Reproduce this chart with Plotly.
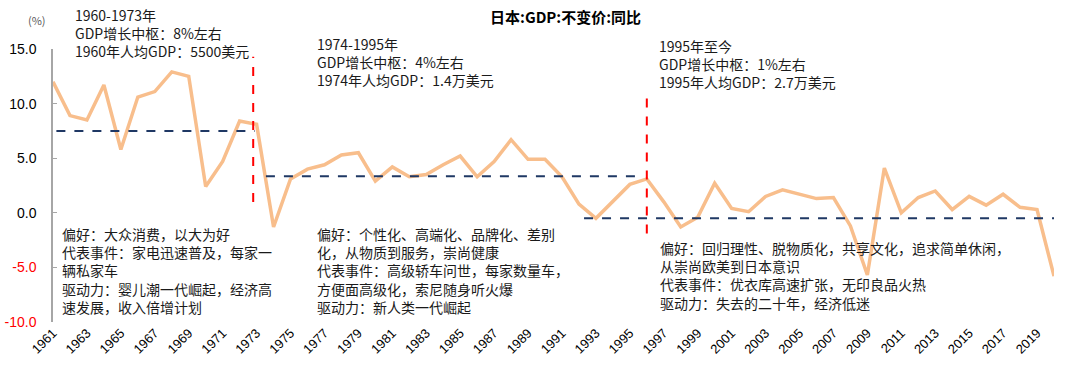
import plotly.graph_objects as go

years = list(range(1961, 2021))
gdp_yoy = [12.0, 8.9, 8.5, 11.7, 5.8, 10.6, 11.1, 12.9, 12.5, 2.4,
           4.7, 8.4, 8.1, -1.3, 3.1, 4.0, 4.4, 5.3, 5.5, 2.9,
           4.2, 3.3, 3.5, 4.4, 5.2, 3.3, 4.7, 6.7, 4.9, 4.9,
           3.3, 0.8, -0.5, 1.0, 2.6, 3.1, 1.0, -1.3, -0.4, 2.7,
           0.4, 0.1, 1.5, 2.1, 1.7, 1.3, 1.4, -1.2, -5.7, 4.1,
           0.0, 1.4, 2.0, 0.3, 1.5, 0.7, 1.7, 0.5, 0.3, -5.8]

x_tick_years = list(range(1961, 2021, 2))
y_ticks = [-10, -5, 0, 5, 10, 15]

# period growth centres (horizontal dashed lines)
period_start = [1961.2, 1973.55, 1992.3]
period_end = [1972.9, 1995.7, 2020.0]
period_level = [7.5, 3.35, -0.5]

# period boundaries (vertical red dashed lines)
break_x = [1972.8, 1996.0]
break_y0 = [1.0, -1.9]
break_y1 = [14.3, 11.0]

W, H = 1080, 375
L, T = 53, 49
pw, ph = 1001, 273
R = W - L - pw
B = H - T - ph

def px(x):
    return (x - L) / pw

def py(y):
    return (T + ph - y) / ph

fig = go.Figure()
fig.add_trace(go.Scatter(x=years, y=gdp_yoy, mode="lines",
                         line=dict(color="#F8BE8C", width=3.5),
                         showlegend=False, hoverinfo="skip"))

shapes = []
for s, e, v in zip(period_start, period_end, period_level):
    shapes.append(dict(type="line", xref="x", yref="y", x0=s, x1=e, y0=v, y1=v,
                       line=dict(color="#1F3864", width=2, dash="dash")))
for bx, b0, b1 in zip(break_x, break_y0, break_y1):
    shapes.append(dict(type="line", xref="x", yref="y", x0=bx, x1=bx, y0=b0, y1=b1,
                       line=dict(color="#FF0000", width=2, dash="dash")))

cjk = "Noto Sans CJK SC"
txt_color = "#1a1a1a"

def block(x, y, lines):
    return dict(xref="paper", yref="paper", x=px(x), y=py(y), xanchor="left",
                yanchor="top", align="left", showarrow=False,
                text="<br>".join(lines), font=dict(family=cjk, size=14, color=txt_color))

annotations = [
    dict(xref="paper", yref="paper", x=px(565), y=py(17), xanchor="center", yanchor="middle",
         showarrow=False, text="<b>日本:GDP:不变价:同比</b>",
         font=dict(family=cjk, size=15, color="#000000")),
    dict(xref="paper", yref="paper", x=px(37), y=py(20), xanchor="center", yanchor="middle",
         showarrow=False, text="(%)", font=dict(family=cjk, size=11, color="#595959")),
    block(73, 3, ["1960-1973年", "GDP增长中枢：8%左右", "1960年人均GDP：5500美元"]),
    block(315, 32, ["1974-1995年", "GDP增长中枢：4%左右", "1974年人均GDP：1.4万美元"]),
    block(657, 34, ["1995年至今", "GDP增长中枢：1%左右", "1995年人均GDP：2.7万美元"]),
    block(60, 222, ["偏好：大众消费，以大为好", "代表事件：家电迅速普及，每家一",
                    "辆私家车", "驱动力：婴儿潮一代崛起，经济高", "速发展，收入倍增计划"]),
    block(315, 222, ["偏好：个性化、高端化、品牌化、差别", "化，从物质到服务，崇尚健康",
                     "代表事件：高级轿车问世，每家数量车，", "方便面高级化，索尼随身听火爆",
                     "驱动力：新人类一代崛起"]),
    block(658, 236, ["偏好：回归理性、脱物质化，共享文化，追求简单休闲，",
                     "从崇尚欧美到日本意识", "代表事件：优衣库高速扩张，无印良品火热",
                     "驱动力：失去的二十年，经济低迷"]),
]

y_ticktext = []
for v in y_ticks:
    s = f"{v:.1f}"
    if v < 0:
        s = f"<span style='color:#FF0000'>{s}</span>"
    y_ticktext.append(s)

fig.update_layout(
    width=W, height=H, template="none",
    margin=dict(l=L, r=R, t=T, b=B, autoexpand=False),
    paper_bgcolor="white", plot_bgcolor="white",
    shapes=shapes, annotations=annotations, showlegend=False,
    xaxis=dict(range=[1961, 2020], tickmode="array", tickvals=x_tick_years,
               ticktext=[str(v) for v in x_tick_years], tickangle=-45,
               showgrid=False, zeroline=False, showline=False, ticks="",
               tickfont=dict(family="Arial", size=13, color="#000000"),
               automargin=False),
    yaxis=dict(range=[-10, 15], tickmode="array", tickvals=y_ticks, ticktext=y_ticktext,
               showgrid=False, zeroline=False, showline=True, linecolor="#A6A6A6",
               linewidth=1.5, ticks="inside", ticklen=4, tickcolor="#A6A6A6",
               ticklabelstandoff=12,
               tickfont=dict(family="Arial", size=14, color="#000000"),
               automargin=False),
)

fig.write_html("out.html", config={"displayModeBar": False},
               post_script="document.body.style.margin='0';document.body.style.overflow='hidden';")
